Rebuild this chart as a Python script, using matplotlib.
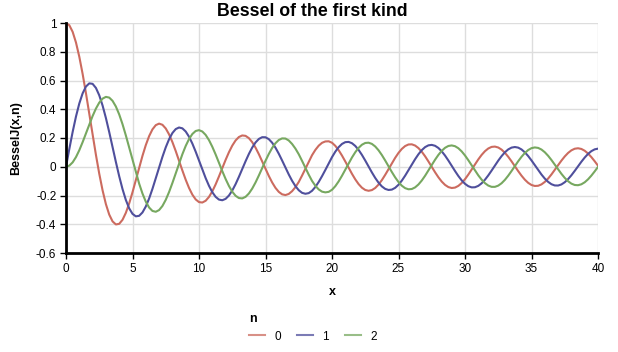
import matplotlib
matplotlib.use("Agg")
import matplotlib.pyplot as plt

plt.rcParams['font.family'] = ['Liberation Sans', 'DejaVu Sans']

# x sampled every 0.25 from 0 to 40
x = [i * 0.25 for i in range(161)]

j0 = [1.0000, 0.9844, 0.9385, 0.8642, 0.7652, 0.6459, 0.5118, 0.3690, 0.2239, 0.0828,
      -0.0484, -0.1641, -0.2601, -0.3327, -0.3801, -0.4013, -0.3971, -0.3691, -0.3205, -0.2551,
      -0.1776, -0.0931, -0.0068, 0.0759, 0.1506, 0.2130, 0.2601, 0.2894, 0.3001, 0.2919,
      0.2663, 0.2252, 0.1717, 0.1092, 0.0419, -0.0259, -0.0903, -0.1474, -0.1939, -0.2273,
      -0.2459, -0.2489, -0.2366, -0.2100, -0.1712, -0.1227, -0.0677, -0.0097, 0.0477, 0.1009,
      0.1469, 0.1829, 0.2069, 0.2177, 0.2150, 0.1990, 0.1711, 0.1331, 0.0875, 0.0374,
      -0.0142, -0.0641, -0.1092, -0.1469, -0.1749, -0.1919, -0.1969, -0.1891, -0.1699, -0.1420,
      -0.1058, -0.0611, -0.0134, 0.0349, 0.0805, 0.1174, 0.1466, 0.1665, 0.1760, 0.1771,
      0.1670, 0.1454, 0.1151, 0.0780, 0.0366, -0.0066, -0.0489, -0.0877, -0.1207, -0.1458,
      -0.1616, -0.1672, -0.1624, -0.1477, -0.1240, -0.0928, -0.0563, -0.0166, 0.0237, 0.0621,
      0.0963, 0.1242, 0.1441, 0.1549, 0.1560, 0.1475, 0.1299, 0.1045, 0.0728, 0.0369,
      -0.0010, -0.0384, -0.0732, -0.1031, -0.1263, -0.1415, -0.1479, -0.1450, -0.1332, -0.1132,
      -0.0864, -0.0545, -0.0194, 0.0166, 0.0512, 0.0824, 0.1082, 0.1271, 0.1381, 0.1403,
      0.1339, 0.1192, 0.0973, 0.0695, 0.0376, 0.0036, -0.0304, -0.0622, -0.0900, -0.1120,
      -0.1269, -0.1337, -0.1323, -0.1227, -0.1056, -0.0820, -0.0535, -0.0219, 0.0109, 0.0427,
      0.0717, 0.0960, 0.1143, 0.1254, 0.1286, 0.1238, 0.1114, 0.0921, 0.0673, 0.0384,
      0.0074]

j1 = [0.0000, 0.1240, 0.2423, 0.3492, 0.4401, 0.5106, 0.5579, 0.5801, 0.5767, 0.5483,
      0.4971, 0.4260, 0.3391, 0.2411, 0.1374, 0.0333, -0.0660, -0.1555, -0.2311, -0.2892,
      -0.3276, -0.3450, -0.3414, -0.3179, -0.2767, -0.2207, -0.1538, -0.0803, -0.0047, 0.0685,
      0.1352, 0.1915, 0.2346, 0.2621, 0.2731, 0.2672, 0.2453, 0.2091, 0.1613, 0.1049,
      0.0435, -0.0190, -0.0789, -0.1325, -0.1768, -0.2093, -0.2284, -0.2330, -0.2234, -0.2003,
      -0.1655, -0.1212, -0.0703, -0.0161, 0.0380, 0.0889, 0.1334, 0.1689, 0.1934, 0.2056,
      0.2051, 0.1919, 0.1672, 0.1326, 0.0904, 0.0433, -0.0058, -0.0538, -0.0977, -0.1347,
      -0.1633, -0.1815, -0.1880, -0.1834, -0.1672, -0.1404, -0.1057, -0.0655, -0.0222, 0.0231,
      0.0668, 0.1050, 0.1362, 0.1587, 0.1711, 0.1728, 0.1638, 0.1448, 0.1172, 0.0825,
      0.0432, 0.0017, -0.0395, -0.0778, -0.1109, -0.1368, -0.1540, -0.1615, -0.1590, -0.1466,
      -0.1253, -0.0965, -0.0620, -0.0241, 0.0150, 0.0528, 0.0870, 0.1155, 0.1366, 0.1490,
      0.1521, 0.1458, 0.1306, 0.1073, 0.0777, 0.0435, 0.0069, -0.0298, -0.0643, -0.0945,
      -0.1187, -0.1353, -0.1435, -0.1426, -0.1330, -0.1152, -0.0904, -0.0602, -0.0266, 0.0084,
      0.0427, 0.0740, 0.1006, 0.1207, 0.1332, 0.1373, 0.1330, 0.1204, 0.1004, 0.0744,
      0.0440, 0.0111, -0.0223, -0.0541, -0.0823, -0.1052, -0.1215, -0.1301, -0.1306, -0.1230,
      -0.1078, -0.0861, -0.0592, -0.0288, 0.0032, 0.0348, 0.0640, 0.0891, 0.1085, 0.1210,
      0.1260]

j2 = [0.0000, 0.0078, 0.0306, 0.0671, 0.1149, 0.1711, 0.2321, 0.2939, 0.3528, 0.4046,
      0.4461, 0.4739, 0.4861, 0.4811, 0.4586, 0.4191, 0.3641, 0.2959, 0.2178, 0.1333,
      0.0466, -0.0384, -0.1173, -0.1865, -0.2429, -0.2837, -0.3074, -0.3132, -0.3014, -0.2730,
      -0.2302, -0.1758, -0.1130, -0.0457, 0.0224, 0.0870, 0.1448, 0.1926, 0.2279, 0.2488,
      0.2546, 0.2452, 0.2216, 0.1854, 0.1390, 0.0855, 0.0280, -0.0300, -0.0849, -0.1336,
      -0.1734, -0.2019, -0.2177, -0.2202, -0.2094, -0.1861, -0.1520, -0.1094, -0.0608, -0.0095,
      0.0416, 0.0892, 0.1308, 0.1637, 0.1862, 0.1972, 0.1962, 0.1827, 0.1584, 0.1263,
      0.0871, 0.0407, -0.0075, -0.0550, -0.0986, -0.1324, -0.1577, -0.1733, -0.1783, -0.1747,
      -0.1603, -0.1350, -0.1018, -0.0627, -0.0203, 0.0229, 0.0642, 0.1010, 0.1313, 0.1532,
      0.1654, 0.1673, 0.1590, 0.1410, 0.1145, 0.0813, 0.0434, 0.0033, -0.0367, -0.0740,
      -0.1063, -0.1318, -0.1489, -0.1567, -0.1549, -0.1434, -0.1233, -0.0958, -0.0626, -0.0259,
      0.0120, 0.0490, 0.0825, 0.1107, 0.1318, 0.1446, 0.1483, 0.1430, 0.1288, 0.1068,
      0.0785, 0.0455, 0.0100, -0.0258, -0.0598, -0.0897, -0.1140, -0.1309, -0.1398, -0.1398,
      -0.1313, -0.1147, -0.0912, -0.0622, -0.0296, 0.0046, 0.0382, 0.0693, 0.0958, 0.1163,
      0.1294, 0.1344, 0.1311, 0.1197, 0.1010, 0.0762, 0.0469, 0.0148, -0.0179, -0.0493,
      -0.0775, -0.1006, -0.1174, -0.1269, -0.1284, -0.1220, -0.1081, -0.0876, -0.0618, -0.0324,
      -0.0011]

orders = ['0', '1', '2']
colors = ['#cc6b5f', '#4f4f9c', '#77a860']

fig = plt.figure(figsize=(6.18, 3.52), dpi=100)
ax = fig.add_axes([66 / 618, 1 - 253 / 352, 532 / 618, 230 / 352])

for ys, lab, c in zip([j0, j1, j2], orders, colors):
    ax.plot(x, ys, color=c, lw=1.5, label=lab)

ax.set_xlim(0, 40)
ax.set_ylim(-0.6, 1.0)
ax.set_xticks(range(0, 41, 5))
ax.set_yticks([-0.6, -0.4, -0.2, 0, 0.2, 0.4, 0.6, 0.8, 1])
ax.set_yticklabels(['-0.6', '-0.4', '-0.2', '0', '0.2', '0.4', '0.6', '0.8', '1'])
ax.grid(True, color='#dddddd', lw=1)
ax.set_axisbelow(True)
for s in ['top', 'right']:
    ax.spines[s].set_visible(False)
for s in ['left', 'bottom']:
    ax.spines[s].set_linewidth(2)
ax.tick_params(length=4, width=1, labelsize=8.5, pad=3)

fig.text(312 / 618, 1 - 12 / 352, 'Bessel of the first kind', ha='center', va='center',
         fontsize=12.8, fontweight='bold')
ax.set_ylabel('BesselJ(x,n)', fontsize=9, fontweight='bold', labelpad=10)
ax.set_xlabel('x', fontsize=9, fontweight='bold', labelpad=8)

leg = fig.legend(loc='upper left', bbox_to_anchor=(238 / 618, 1 - 302 / 352), ncol=3,
                 frameon=False, title='n', fontsize=8.5, handlelength=1.4,
                 handletextpad=0.8, columnspacing=1.3, alignment='left',
                 title_fontproperties={'weight': 'bold', 'size': 9})
for h in leg.get_lines():
    h.set_alpha(0.75)

fig.savefig('out.png', dpi=100)
